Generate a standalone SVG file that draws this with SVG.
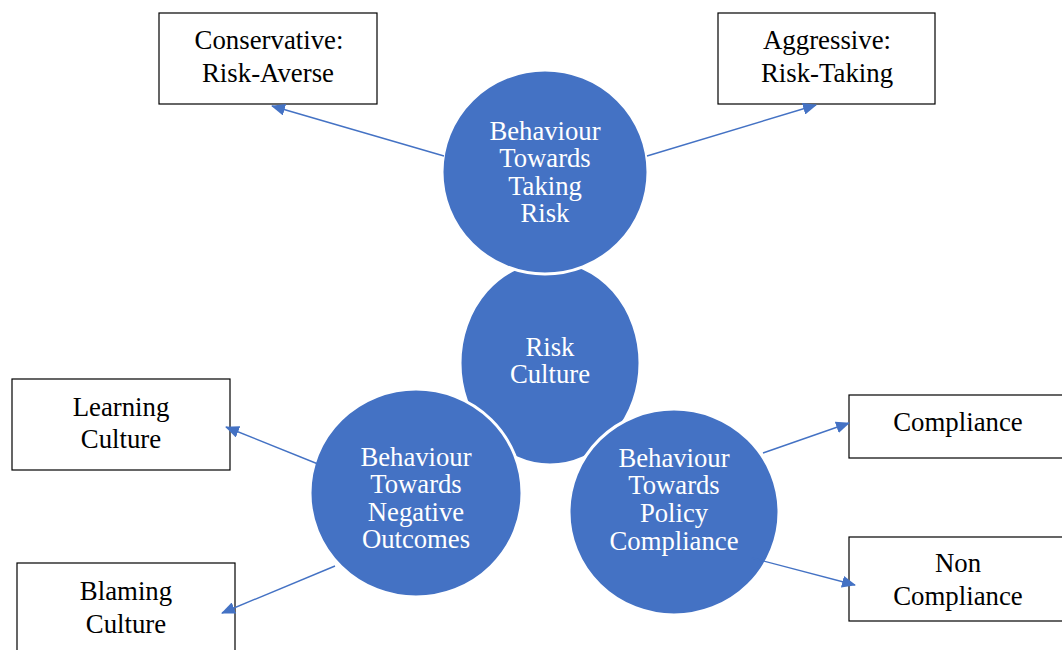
<svg xmlns="http://www.w3.org/2000/svg" width="1062" height="650" viewBox="0 0 1062 650">
  <style>
    .box { fill: #ffffff; stroke: #000000; stroke-width: 1.2; }
    .bubble { fill: #4472C4; stroke: #ffffff; stroke-width: 3; }
    .lbl { font-family: "Liberation Serif", "Times New Roman", serif; font-size: 26.8px; text-anchor: middle; fill: #000000; }
    .wlbl { font-family: "Liberation Serif", "Times New Roman", serif; font-size: 26.7px; text-anchor: middle; fill: #ffffff; }
    .arrow { stroke: #4472C4; stroke-width: 1.4; fill: none; marker-end: url(#head); }
  </style>
  <defs>
    <marker id="head" markerWidth="14" markerHeight="12" refX="13" refY="6" orient="auto" markerUnits="userSpaceOnUse">
      <path d="M0,0 L14,6 L0,12 Z" fill="#4472C4"/>
    </marker>
  </defs>
  <rect width="1062" height="650" fill="#ffffff"/>

  <!-- outcome boxes -->
  <g id="conservative">
    <rect class="box" x="159" y="13" width="218" height="91"/>
    <text class="lbl" x="269" y="49">Conservative:</text>
    <text class="lbl" x="268" y="82">Risk-Averse</text>
  </g>
  <g id="aggressive">
    <rect class="box" x="718" y="13" width="217" height="91"/>
    <text class="lbl" x="827" y="49">Aggressive:</text>
    <text class="lbl" x="827" y="82">Risk-Taking</text>
  </g>
  <g id="learning">
    <rect class="box" x="12" y="379" width="218" height="91"/>
    <text class="lbl" x="121" y="416">Learning</text>
    <text class="lbl" x="121" y="448">Culture</text>
  </g>
  <g id="blaming">
    <rect class="box" x="17" y="563" width="218" height="100"/>
    <text class="lbl" x="126" y="600">Blaming</text>
    <text class="lbl" x="126" y="633">Culture</text>
  </g>
  <g id="compliance">
    <rect class="box" x="849" y="395" width="220" height="63"/>
    <text class="lbl" x="958" y="431">Compliance</text>
  </g>
  <g id="non-compliance">
    <rect class="box" x="849" y="537" width="220" height="84"/>
    <text class="lbl" x="958" y="572">Non</text>
    <text class="lbl" x="958" y="605">Compliance</text>
  </g>

  <!-- central circles -->
  <g id="risk-culture">
    <ellipse class="bubble" cx="550" cy="363" rx="90" ry="102"/>
    <text class="wlbl" x="550" y="356">Risk</text>
    <text class="wlbl" x="550" y="383">Culture</text>
  </g>
  <g id="taking-risk">
    <ellipse class="bubble" cx="545" cy="172" rx="103" ry="102"/>
    <text class="wlbl" x="545" y="140">Behaviour</text>
    <text class="wlbl" x="545" y="167">Towards</text>
    <text class="wlbl" x="545" y="195">Taking</text>
    <text class="wlbl" x="545" y="222">Risk</text>
  </g>
  <g id="negative-outcomes">
    <ellipse class="bubble" cx="416" cy="493" rx="106" ry="104"/>
    <text class="wlbl" x="416" y="466">Behaviour</text>
    <text class="wlbl" x="416" y="493">Towards</text>
    <text class="wlbl" x="416" y="521">Negative</text>
    <text class="wlbl" x="416" y="548">Outcomes</text>
  </g>
  <g id="policy-compliance">
    <ellipse class="bubble" cx="674" cy="512" rx="105" ry="103"/>
    <text class="wlbl" x="674" y="467">Behaviour</text>
    <text class="wlbl" x="674" y="494">Towards</text>
    <text class="wlbl" x="674" y="522">Policy</text>
    <text class="wlbl" x="674" y="550">Compliance</text>
  </g>

  <!-- connectors -->
  <g id="connectors">
    <line class="arrow" x1="444" y1="156" x2="272" y2="106"/>
    <line class="arrow" x1="647" y1="156" x2="816" y2="105"/>
    <line class="arrow" x1="318" y1="464" x2="226" y2="427"/>
    <line class="arrow" x1="335" y1="566" x2="222" y2="613"/>
    <line class="arrow" x1="763" y1="453" x2="849" y2="423"/>
    <line class="arrow" x1="752" y1="558" x2="855" y2="585"/>
  </g>
</svg>
